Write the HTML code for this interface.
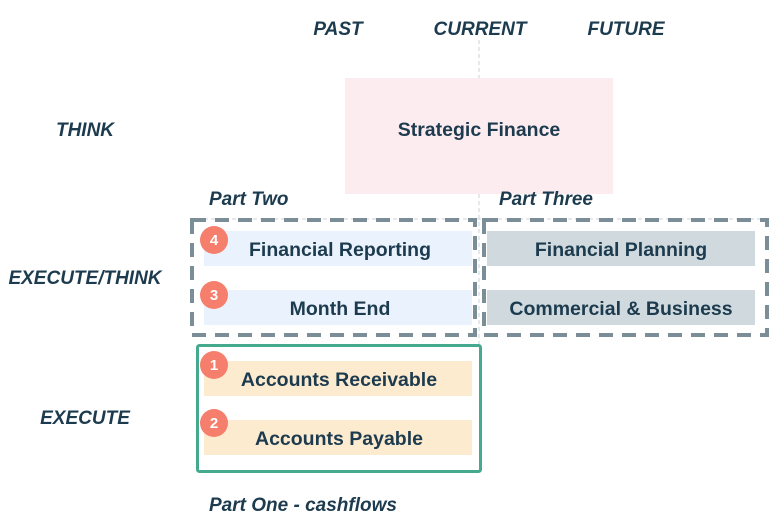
<!DOCTYPE html>
<html><head><meta charset="utf-8"><style>
html,body{margin:0;padding:0;background:#fff;}
svg{display:block;}
text{font-family:"Liberation Sans",sans-serif;fill:#1d3b4e;}
.i{font-style:italic;font-weight:bold;font-size:19px;}
.b{font-weight:bold;font-size:19.5px;}
.n{font-weight:bold;font-size:15px;fill:#fff;}
</style></head><body>
<svg width="775" height="527" viewBox="0 0 775 527" xmlns="http://www.w3.org/2000/svg">
<line x1="479" y1="40" x2="479" y2="345" stroke="#ccd3d8" stroke-width="1" stroke-dasharray="4,3"/>
<line x1="190" y1="219" x2="768" y2="219" stroke="#ccd3d8" stroke-width="1" stroke-dasharray="4,3"/>
<text class="i" x="338" y="35" text-anchor="middle">PAST</text>
<text class="i" x="480" y="35" text-anchor="middle">CURRENT</text>
<text class="i" x="626" y="35" text-anchor="middle">FUTURE</text>
<text class="i" x="85" y="136" text-anchor="middle">THINK</text>
<text class="i" x="85" y="284" text-anchor="middle">EXECUTE/THINK</text>
<text class="i" x="85" y="424" text-anchor="middle">EXECUTE</text>
<rect x="345" y="78" width="268" height="116" fill="#fdecef"/>
<text class="b" x="479" y="136" text-anchor="middle">Strategic Finance</text>
<text class="i" x="209" y="205">Part Two</text>
<text class="i" x="499" y="205">Part Three</text>
<text class="i" x="209" y="511">Part One - cashflows</text>
<rect x="204" y="231" width="268" height="35" fill="#eaf3fd"/>
<rect x="204" y="290" width="268" height="35" fill="#eaf3fd"/>
<rect x="487" y="231" width="268" height="35" fill="#cfd9de"/>
<rect x="487" y="290" width="268" height="35" fill="#cfd9de"/>
<rect x="204" y="361" width="268" height="35" fill="#fdebd0"/>
<rect x="204" y="420" width="268" height="35" fill="#fdebd0"/>
<rect x="192" y="220" width="283" height="115" fill="none" stroke="#7b8d97" stroke-width="4" stroke-dasharray="14,9"/>
<rect x="484" y="220" width="283" height="115" fill="none" stroke="#7b8d97" stroke-width="4" stroke-dasharray="14,9"/>
<rect x="197.5" y="345.5" width="283" height="126" fill="none" stroke="#45a98e" stroke-width="3" rx="2"/>
<text class="b" x="340" y="256" text-anchor="middle">Financial Reporting</text>
<text class="b" x="340" y="315" text-anchor="middle">Month End</text>
<text class="b" x="621" y="256" text-anchor="middle">Financial Planning</text>
<text class="b" x="621" y="315" text-anchor="middle">Commercial &amp; Business</text>
<text class="b" x="339" y="386" text-anchor="middle">Accounts Receivable</text>
<text class="b" x="339" y="445" text-anchor="middle">Accounts Payable</text>
<circle cx="214" cy="240" r="14" fill="#f57f6c"/><text class="n" x="214" y="245" text-anchor="middle">4</text>
<circle cx="214" cy="295" r="14" fill="#f57f6c"/><text class="n" x="214" y="300" text-anchor="middle">3</text>
<circle cx="214" cy="365" r="14" fill="#f57f6c"/><text class="n" x="214" y="370" text-anchor="middle">1</text>
<circle cx="214" cy="423" r="14" fill="#f57f6c"/><text class="n" x="214" y="428" text-anchor="middle">2</text>
</svg>
</body></html>
